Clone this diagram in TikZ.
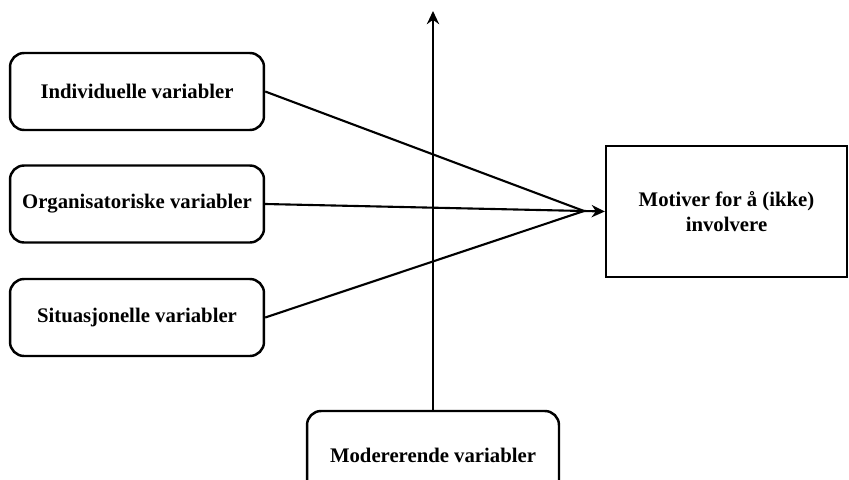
\documentclass[tikz,border=0pt]{standalone}
\usepackage{fontspec}
\setmainfont{Liberation Serif}
\usetikzlibrary{arrows.meta}
\begin{document}
\begin{tikzpicture}[
    x=0.02cm, y=-0.02cm,
    var/.style={draw, rounded corners=8pt, line width=1.4pt, minimum width=5.08cm, minimum height=1.54cm, font=\bfseries\fontsize{11.8}{14}\selectfont},
    >={Stealth[length=7.5pt,width=7pt]}
  ]
  \useasboundingbox (0,0) rectangle (849,480);
  \clip (0,0) rectangle (849,480);
  \node[var] (ind) at (137,91.5) {Individuelle variabler};
  \node[var] (org) at (137,204) {Organisatoriske variabler};
  \node[var] (sit) at (137,317.5) {Situasjonelle variabler};
  \node[var, rounded corners=0pt, minimum width=4.82cm, minimum height=2.62cm, align=center] (mot) at (726.5,211.5) {Motiver for å (ikke)\\involvere};
  \node[var, minimum width=5.04cm, minimum height=1.76cm] (mod) at (433,455) {Modererende variabler};
  \coordinate (c) at (584,211);
  \coordinate (top) at (433,11);
  \draw[line width=1.2pt] (ind.east) -- (c);
  \draw[line width=1.2pt] (org.east) -- (c);
  \draw[line width=1.2pt] (sit.east) -- (c);
  \draw[->, line width=1.2pt] (c) -- (mot.west);
  \draw[->, line width=1.2pt] (mod.north) -- (top);
\end{tikzpicture}
\end{document}
